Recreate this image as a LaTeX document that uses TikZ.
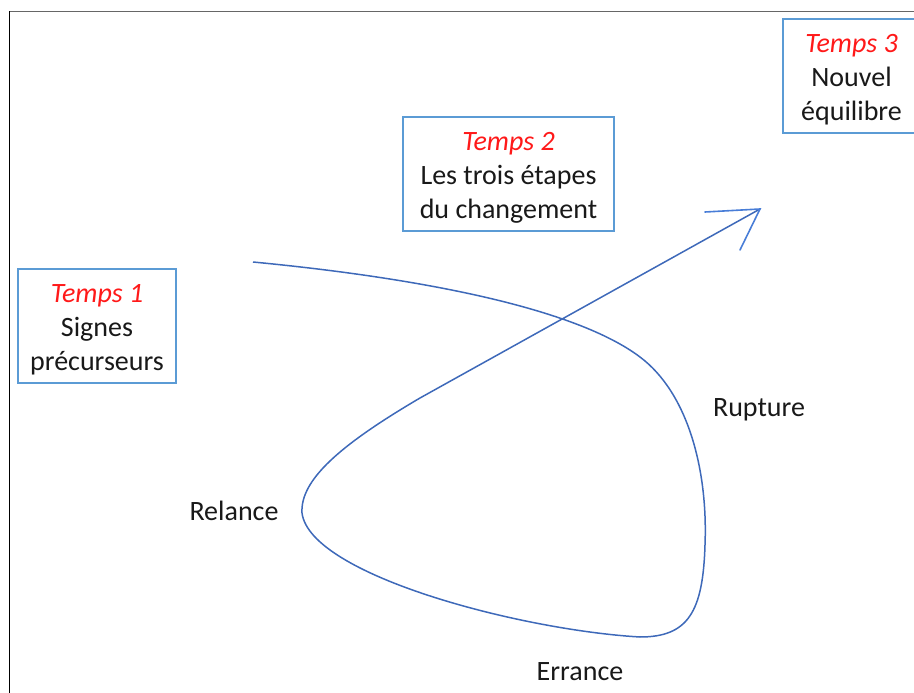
\documentclass[tikz,border=0pt]{standalone}
\usepackage{fontspec}
\setmainfont{Carlito}
\definecolor{boxblue}{RGB}{91,155,213}
\definecolor{curveblue}{RGB}{62,105,185}
\definecolor{headblue}{RGB}{72,125,215}
\definecolor{tred}{RGB}{255,25,25}
\definecolor{txt}{RGB}{25,25,25}
\begin{document}
\begin{tikzpicture}[x=1pt,y=-1pt,
  tbox/.style={draw=boxblue,line width=1.6pt,fill=white,inner sep=0pt,
    minimum height=114pt},
  ttext/.style={align=center,font=\fontsize{28}{34}\selectfont,text=txt,inner sep=0pt},
  lab/.style={font=\fontsize{28}{34}\selectfont,text=txt,inner sep=0pt},
  curve/.style={draw=curveblue,line width=1.5pt},
  head/.style={draw=headblue,line width=1.6pt,line cap=round}]
\useasboundingbox (0,0) rectangle (914,693);
% frame
\coordinate (ftl) at (9.5,11.5);
\coordinate (ftr) at (914,11.5);
\coordinate (fbl) at (9.5,693);
\draw[gray!80!black,line width=1.6pt] (ftl) -- (ftr);
\draw[black,line width=1.6pt] (ftl) -- (fbl);
% boxes
\node[tbox,minimum width=158pt] (t1) at (97,326) {};
\node[tbox,minimum width=211pt] (t2) at (508.5,174) {};
\node[tbox,minimum width=137pt] (t3) at (851.5,76) {};
\node[ttext] (t1t) at ([yshift=-3.5pt]t1.center) {\textcolor{tred}{\itshape Temps 1}\\Signes\\précurseurs};
\node[ttext] (t2t) at ([yshift=-3.5pt]t2.center) {\textcolor{tred}{\itshape Temps 2}\\Les trois étapes\\du changement};
\node[ttext] (t3t) at ([yshift=-3.5pt]t3.center) {\textcolor{tred}{\itshape Temps 3}\\Nouvel\\équilibre};
% labels
\node[lab] (rup) at (759,410) {Rupture};
\node[lab] (rel) at (234,511) {Relance};
\node[lab] (err) at (580,672) {Errance};
% curve
\coordinate (c0) at (253,262);
\coordinate (c1) at (640,357);
\coordinate (c2) at (705,545);
\coordinate (c3) at (640,637);
\coordinate (c4) at (302,513);
\coordinate (c5) at (420,398);
\coordinate (tip) at (760,209);
\coordinate (b1) at (705,212);
\coordinate (b2) at (740,250);
\draw[curve] (c0) .. controls (420,278) and (575,308) .. (c1)
  .. controls (688,393) and (708,470) .. (c2)
  .. controls (703,612) and (688,637) .. (c3)
  .. controls (520,630) and (310,575) .. (c4)
  .. controls (300,480) and (340,445) .. (c5) -- (tip);
\draw[head] (b1) -- (tip) -- (b2);
\end{tikzpicture}
\end{document}
